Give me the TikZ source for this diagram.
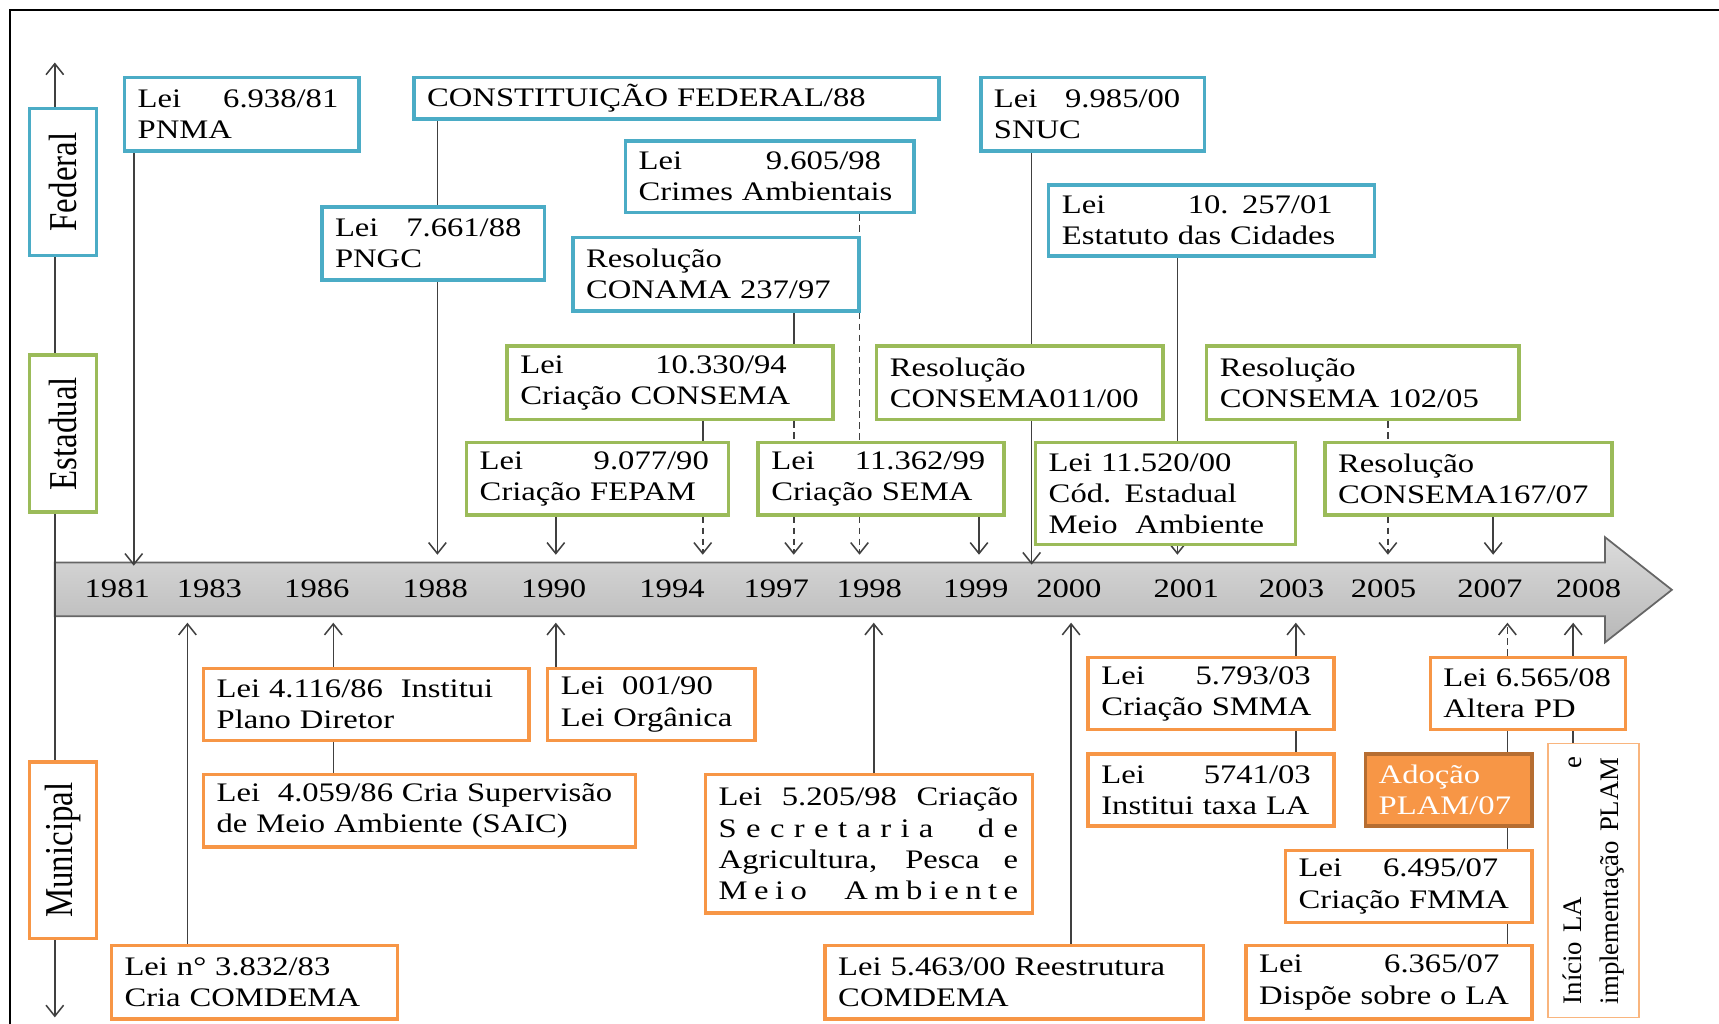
\documentclass[tikz,border=0pt]{standalone}
\usepackage{fontspec}
\setmainfont[FakeStretch=1.22]{Liberation Serif}
\newfontfamily\levelserif{Liberation Serif}
\usepackage{xcolor}
\usepackage{tikz}
\usetikzlibrary{
  arrows.meta,
  backgrounds
}
\definecolor{fedblue}{HTML}{4BACC6}
\definecolor{estgreen}{HTML}{9BBB59}
\definecolor{munorange}{HTML}{F79646}
\definecolor{adoborder}{HTML}{B66D31}
\colorlet{linkgray}{black!75}
\colorlet{inicborder}{munorange!70}

\newcommand\lawfont{\fontsize{12.2}{14.2}\selectfont}
\newcommand\levelfont{\levelserif\fontsize{15}{18}\selectfont}
\newcommand\inicfont{\levelserif\fontsize{12.2}{16.5}\selectfont}
\newcommand\leinum[2]{\leavevmode\hbox to #1{Lei\hfill #2}}
\newcommand\fullline[2]{\leavevmode\hbox to #1{\spaceskip=0pt\relax #2}}

\tikzset{
  law/.style={draw, line width=1.6pt, fill=white, align=left, anchor=north west,
    inner xsep=6pt, inner ysep=0pt, font=\lawfont},
  fedlaw/.style={law, draw=fedblue},
  estlaw/.style={law, draw=estgreen},
  munlaw/.style={law, draw=munorange},
  level/.style={draw, line width=1.6pt, fill=white, rotate=90, inner sep=0pt, font=\levelfont},
  inicbox/.style={draw=inicborder, line width=0.7pt, fill=white, rotate=90, align=left,
    inner xsep=6pt, inner ysep=0pt, font=\inicfont},
  link/.style={draw=linkgray, line width=0.7pt},
  dashlink/.style={link, dash pattern=on 3pt off 2pt},
  lawarrow/.style={-{Straight Barb[length=5pt,width=8pt]}},
  bothways/.style={{Straight Barb[length=5pt,width=8pt]}-{Straight Barb[length=5pt,width=8pt]}},
  yearlabel/.style={font=\lawfont, inner sep=1pt}
}

\begin{document}
\begin{tikzpicture}[x=0.5pt, y=-0.5pt]
\useasboundingbox (0,0) rectangle (1568,934);
\draw[line width=1pt] (9,934) |- (1568,9);

\coordinate (axtop) at (50,57);
\coordinate (axbot) at (50,928);
\draw[link, bothways] (axbot) -- (axtop);

\foreach \x/\yr in {107/1981, 191/1983, 289/1986, 397/1988, 505/1990, 613/1994,
  708/1997, 793/1998, 890/1999, 975/2000, 1082/2001, 1178/2003, 1262/2005,
  1359/2007, 1449/2008}
  \node[yearlabel] (y\yr) at (\x,537) {\yr};

\node[level, draw=fedblue, minimum width=67pt, minimum height=30.5pt] (federal) at (57.5,166) {\scalebox{1}[1.2]{Federal}};
\node[level, draw=estgreen, minimum width=71.5pt, minimum height=30.5pt] (estadual) at (57.5,395.5) {\scalebox{1}[1.2]{Estadual}};
\node[level, draw=munorange, minimum width=80.5pt, minimum height=30.5pt] (municipal) at (57.5,775.5) {\scalebox{1}[1.2]{Municipal}};

\node[fedlaw, text width=95pt, minimum height=33.5pt] (pnma) at (112,69) {\leinum{91.5pt}{6.938/81}\\PNMA};
\node[fedlaw, text width=227.5pt, minimum height=19pt] (cf88) at (376,69) {CONSTITUIÇÃO FEDERAL/88};
\node[fedlaw, text width=89.5pt, minimum height=33.5pt] (pngc) at (292,187) {\leinum{85pt}{7.661/88}\\PNGC};
\node[fedlaw, text width=119.5pt, minimum height=32.5pt] (crimes) at (569,127) {\leinum{110.5pt}{9.605/98}\\Crimes Ambientais};
\node[fedlaw, text width=118.5pt, minimum height=33.5pt] (conama) at (521,215) {Resolução\\CONAMA 237/97};
\node[fedlaw, text width=90pt, minimum height=33.5pt] (snuc) at (893,69) {\leinum{85pt}{9.985/00}\\SNUC};
\node[fedlaw, text width=136.5pt, minimum height=32.5pt] (estatuto) at (955,167) {\leinum{123.5pt}{10. 257/01}\\Estatuto das Cidades};

\node[estlaw, text width=136.5pt, minimum height=33.5pt] (consema94) at (461,314) {\leinum{121.5pt}{10.330/94}\\Criação CONSEMA};
\node[estlaw, text width=118.5pt, minimum height=33.5pt] (consema011) at (798,314) {Resolução\\CONSEMA011/00};
\node[estlaw, text width=130.5pt, minimum height=33.5pt] (consema102) at (1099,314) {Resolução\\CONSEMA 102/05};
\node[estlaw, text width=107.5pt, minimum height=33pt] (fepam) at (424,402) {\leinum{104.5pt}{9.077/90}\\Criação FEPAM};
\node[estlaw, text width=100pt, minimum height=33pt] (sema) at (690,402) {\leinum{97.5pt}{11.362/99}\\Criação SEMA};
\node[estlaw, text width=106.5pt, minimum height=46.5pt] (cod) at (943,402) {Lei 11.520/00\\Cód. Estadual\\Meio~ Ambiente};
\node[estlaw, text width=119pt, minimum height=33pt] (consema167) at (1207,402) {Resolução\\CONSEMA167/07};

\node[munlaw, text width=136.5pt, minimum height=33pt] (lei4116) at (184,608) {Lei 4.116/86~ Institui\\Plano Diretor};
\node[munlaw, text width=82.5pt, minimum height=33pt] (lei001) at (498,608) {Lei~ 001/90\\Lei Orgânica};
\node[munlaw, text width=185pt, minimum height=33pt] (lei4059) at (184,705) {Lei~ 4.059/86 Cria Supervisão\\de Meio Ambiente (SAIC)};
\node[munlaw, text width=137pt, minimum height=63pt] (lei5205) at (642,705) {\fullline{136.5pt}{Lei 5.205/98 Criação}\\
  \fullline{136.5pt}{\addfontfeature{LetterSpace=35}Secretaria de}\\
  \fullline{136.5pt}{Agricultura, Pesca e}\\
  \fullline{136.5pt}{\addfontfeature{LetterSpace=24}Meio Ambiente}};
\node[munlaw, text width=118.5pt, minimum height=33.5pt] (lei3832) at (100,861) {Lei n° 3.832/83\\Cria COMDEMA};
\node[munlaw, text width=160.5pt, minimum height=33.5pt] (lei5463) at (751,861) {Lei 5.463/00 Reestrutura\\COMDEMA};
\node[munlaw, text width=100pt, minimum height=33pt] (lei5793) at (991,598) {\leinum{95.5pt}{5.793/03}\\Criação SMMA};
\node[munlaw, text width=100pt, minimum height=33pt] (lei5741) at (991,686) {\leinum{95.5pt}{5741/03}\\Institui taxa LA};
\node[munlaw, text width=77pt, minimum height=33pt] (lei6565) at (1303,598) {Lei 6.565/08\\Altera PD};
\node[munlaw, draw=adoborder, fill=munorange, text=white, text width=64pt, minimum height=33pt] (adocao) at (1244,686) {Adoção\\PLAM/07};
\node[munlaw, text width=100.5pt, minimum height=33pt] (lei6495) at (1171,774) {\leinum{91pt}{6.495/07}\\Criação FMMA};
\node[munlaw, text width=118.5pt, minimum height=33.5pt] (lei6365) at (1135,861) {\leinum{109.5pt}{6.365/07}\\Dispõe sobre o LA};
\node[inicbox, text width=113pt, minimum width=125pt, minimum height=41.5pt] (inicio) at (1453.5,803) {Início LA\hfill e\\implementação PLAM};

\coordinate (a81) at (122,516);
\coordinate (a88) at (399,506);
\coordinate (a90) at (507,506);
\coordinate (a94) at (641,506);
\coordinate (a97) at (724,506);
\coordinate (a98) at (784,506);
\coordinate (a99) at (893,506);
\coordinate (a00) at (941,515);
\coordinate (a01) at (1074,506);
\coordinate (a05) at (1266,506);
\coordinate (a07) at (1362,506);
\coordinate (b83) at (171,568);
\coordinate (b86) at (304,568);
\coordinate (b90) at (507,568);
\coordinate (b98) at (797,568);
\coordinate (b00) at (977,568);
\coordinate (b03) at (1182,568);
\coordinate (b07) at (1375,568);
\coordinate (b08) at (1435,568);

\begin{scope}[on background layer]
\shade[top color=black!14, middle color=black!6, bottom color=black!28, draw=black!60, line width=0.8pt]
  (50,513) -- (1464,513) -- (1464,490) -- (1525,538) -- (1464,586) -- (1464,562) -- (50,562) -- cycle;
\draw[link, lawarrow] (a81 |- pnma.south) -- (a81);
\draw[link] (a88 |- cf88.south) -- (a88 |- pngc.north);
\draw[link, lawarrow] (a88 |- pngc.south) -- (a88);
\draw[link, lawarrow] (a90 |- fepam.south) -- (a90);
\draw[link] (a94 |- consema94.south) -- (a94 |- fepam.north);
\draw[dashlink, lawarrow] (a94 |- fepam.south) -- (a94);
\draw[link] (a97 |- conama.south) -- (a97 |- consema94.north);
\draw[dashlink] (a97 |- consema94.south) -- (a97 |- sema.north);
\draw[dashlink, lawarrow] (a97 |- sema.south) -- (a97);
\draw[dashlink] (a98 |- crimes.south) -- (a98 |- sema.north);
\draw[dashlink, lawarrow] (a98 |- sema.south) -- (a98);
\draw[link, lawarrow] (a99 |- sema.south) -- (a99);
\draw[link] (a00 |- snuc.south) -- (a00 |- consema011.north);
\draw[link, lawarrow] (a00 |- consema011.south) -- (a00);
\draw[link, lawarrow] (a01 |- estatuto.south) -- (a01);
\draw[dashlink] (a05 |- consema102.south) -- (a05 |- consema167.north);
\draw[dashlink, lawarrow] (a05 |- consema167.south) -- (a05);
\draw[link, lawarrow] (a07 |- consema167.south) -- (a07);
\draw[link, lawarrow] (b83 |- lei3832.north) -- (b83);
\draw[link] (b86 |- lei4059.north) -- (b86 |- lei4116.south);
\draw[link, lawarrow] (b86 |- lei4116.north) -- (b86);
\draw[link, lawarrow] (b90 |- lei001.north) -- (b90);
\draw[link, lawarrow] (b98 |- lei5205.north) -- (b98);
\draw[link, lawarrow] (b00 |- lei5463.north) -- (b00);
\draw[link] (b03 |- lei5741.north) -- (b03 |- lei5793.south);
\draw[link, lawarrow] (b03 |- lei5793.north) -- (b03);
\draw[link] (b07 |- lei6365.north) -- (b07 |- lei6565.south);
\draw[dashlink, lawarrow] (b07 |- lei6565.north) -- (b07);
\draw[link] (b08 |- inicio.east) -- (b08 |- lei6565.south);
\draw[link, lawarrow] (b08 |- lei6565.north) -- (b08);
\end{scope}
\end{tikzpicture}
\end{document}
